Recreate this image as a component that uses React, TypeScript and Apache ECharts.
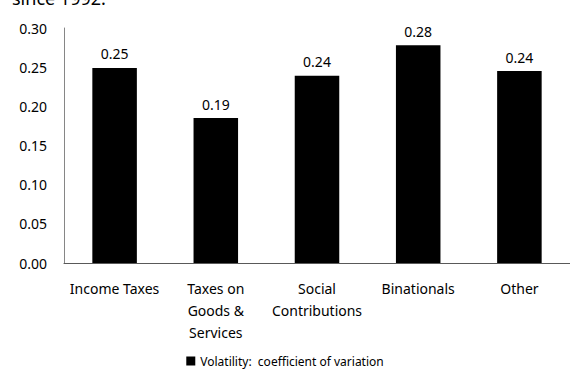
import React, { useEffect, useRef } from "react";
import * as echarts from "echarts";

const categories = [
  "Income Taxes",
  "Taxes on\nGoods &\nServices",
  "Social\nContributions",
  "Binationals",
  "Other",
];
const values = [0.249, 0.185, 0.239, 0.278, 0.245];
const labels = ["0.25", "0.19", "0.24", "0.28", "0.24"];
const seriesName = "Volatility:  coefficient of variation";
const titleText = "since 1992.";

const FONT = "'Noto Sans', 'Open Sans', sans-serif";

export default function App() {
  const ref = useRef<HTMLDivElement>(null);
  useEffect(() => {
    if (!ref.current) return;
    const chart = echarts.init(ref.current, null, { renderer: "svg" });
    chart.setOption({
      animation: false,
      backgroundColor: "#ffffff",
      textStyle: { fontFamily: FONT },
      graphic: [
        {
          type: "text",
          left: 12,
          top: -11,
          style: {
            text: titleText,
            font: `18px ${FONT}`,
            fill: "#000",
          },
        },
      ],
      legend: {
        data: [seriesName],
        top: 354,
        left: "center",
        padding: [0, 5, 0, 5],
        icon: "rect",
        itemWidth: 9,
        itemHeight: 9,
        itemGap: 4,
        textStyle: { fontSize: 12, lineHeight: 14, color: "#000", fontFamily: FONT },
      },
      grid: { left: 64, right: 0, top: 28, bottom: 106, containLabel: false },
      xAxis: {
        type: "category",
        data: categories,
        axisLine: { show: true, lineStyle: { color: "#595959", width: 1 } },
        axisTick: { show: false },
        axisLabel: {
          color: "#000",
          fontSize: 14,
          lineHeight: 22,
          margin: 14,
          interval: 0,
          fontFamily: FONT,
        },
      },
      yAxis: {
        type: "value",
        min: 0,
        max: 0.3,
        interval: 0.05,
        splitLine: { show: false },
        axisLine: { show: true, lineStyle: { color: "#868686", width: 1 } },
        axisTick: { show: false },
        axisLabel: {
          color: "#000",
          fontSize: 14,
          margin: 17,
          fontFamily: FONT,
          formatter: (v: number) => v.toFixed(2),
        },
      },
      series: [
        {
          name: seriesName,
          type: "bar",
          data: values,
          barWidth: "44%",
          itemStyle: { color: "#000000" },
          label: {
            show: true,
            position: "top",
            distance: 7,
            color: "#000",
            fontSize: 14,
            fontFamily: FONT,
            formatter: (p: any) => labels[p.dataIndex],
          },
        },
      ],
    });
    return () => chart.dispose();
  }, []);
  return (
    <div
      ref={ref}
      style={{ position: "fixed", left: 0, top: 0, width: 570, height: 369 }}
    />
  );
}
